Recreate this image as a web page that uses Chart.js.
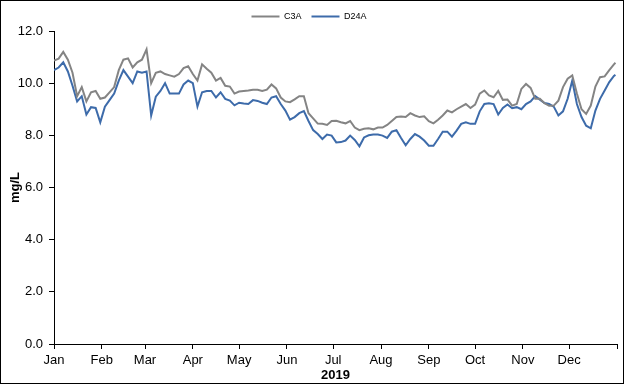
<!DOCTYPE html>
<html>
<head>
  <meta charset="UTF-8" />
  <title>C3A / D24A 2019</title>
  <script src="https://cdn.jsdelivr.net/npm/chart.js"></script>
  <style>
    body { margin: 0; background: #fff; }
    #wrap { width: 624px; height: 384px; border: 1px solid #000; box-sizing: border-box; }
    canvas { display: block; }
  </style>
</head>
<body>
  <div id="wrap"><canvas id="doChart" width="622" height="382"></canvas></div>

  <script>
    // sampled every 3rd day of 2019 (day 0 = Jan 1), last sample is Dec 31
    const c3a = [
      10.87, 10.94, 11.2, 10.9, 10.4, 9.5, 9.85, 9.3, 9.65, 9.7, 9.4, 9.45, 9.65, 9.85,
      10.5, 10.9, 10.95, 10.6, 10.8, 10.9, 11.3, 10.0, 10.4, 10.45, 10.35, 10.3, 10.25, 10.35,
      10.58, 10.65, 10.35, 10.1, 10.72, 10.55, 10.4, 10.1, 10.2, 9.9, 9.87, 9.6, 9.68, 9.7,
      9.72, 9.75, 9.75, 9.7, 9.75, 9.95, 9.8, 9.45, 9.3, 9.27, 9.38, 9.5, 9.5, 8.85, 8.65,
      8.45, 8.44, 8.4, 8.55, 8.56, 8.5, 8.46, 8.55, 8.3, 8.2, 8.25, 8.27, 8.23, 8.3, 8.3,
      8.4, 8.55, 8.7, 8.72, 8.7, 8.85, 8.76, 8.7, 8.73, 8.54, 8.46, 8.6, 8.76, 8.95, 8.88,
      9.0, 9.1, 9.2, 9.05, 9.18, 9.6, 9.72, 9.53, 9.46, 9.7, 9.36, 9.37, 9.14, 9.2, 9.78,
      9.97, 9.82, 9.4, 9.4, 9.23, 9.13, 9.14, 9.33, 9.85, 10.17, 10.3, 9.6, 9.0, 8.82, 9.14,
      9.87, 10.23, 10.26, 10.5, 10.72, 10.78
    ];
    const d24a = [
      10.5, 10.6, 10.8, 10.45, 9.9, 9.3, 9.5, 8.8, 9.08, 9.05, 8.5, 9.1, 9.35, 9.6,
      10.1, 10.5, 10.25, 10.0, 10.45, 10.4, 10.45, 8.76, 9.48, 9.7, 10.0, 9.6, 9.6, 9.6,
      9.95, 10.1, 10.0, 9.1, 9.65, 9.7, 9.7, 9.45, 9.65, 9.4, 9.33, 9.15, 9.25, 9.22,
      9.2, 9.35, 9.32, 9.25, 9.2, 9.45, 9.5, 9.2, 8.95, 8.6, 8.7, 8.85, 8.93, 8.55, 8.2,
      8.05, 7.86, 8.03, 7.99, 7.73, 7.74, 7.8, 7.99, 7.82, 7.58, 7.92, 8.0, 8.03, 8.03, 7.99,
      7.9, 8.14, 8.2, 7.9, 7.62, 7.86, 8.05, 7.95, 7.8, 7.6, 7.6, 7.86, 8.14, 8.14, 7.95,
      8.18, 8.44, 8.5, 8.44, 8.44, 8.92, 9.2, 9.23, 9.2, 8.8, 9.05, 9.18, 9.04, 9.08, 9.0,
      9.2, 9.3, 9.5, 9.37, 9.24, 9.2, 9.1, 8.76, 8.92, 9.4, 10.1, 9.2, 8.7, 8.37, 8.27,
      8.95, 9.4, 9.72, 10.04, 10.28, 10.32
    ];
    const days = c3a.map((_, i) => Math.min(i * 3, 364));

    const monthNames = ['Jan', 'Feb', 'Mar', 'Apr', 'May', 'Jun', 'Jul', 'Aug', 'Sep', 'Oct', 'Nov', 'Dec', ''];
    const monthStarts = [0, 31, 59, 90, 120, 151, 181, 212, 243, 273, 304, 334, 365];
    const yTicks = [0, 2, 4, 6, 8, 10, 12];

    const font = "Arial, 'Liberation Sans', sans-serif";

    const ctx = document.getElementById('doChart').getContext('2d');
    new Chart(ctx, {
      type: 'line',
      data: {
        datasets: [
          {
            label: 'C3A',
            data: days.map((d, i) => ({ x: d, y: c3a[i] })),
            borderColor: '#848484',
            backgroundColor: '#848484',
            borderWidth: 2,
            pointRadius: 0,
            tension: 0,
          },
          {
            label: 'D24A',
            data: days.map((d, i) => ({ x: d, y: d24a[i] })),
            borderColor: '#3D6BAA',
            backgroundColor: '#3D6BAA',
            borderWidth: 2,
            pointRadius: 0,
            tension: 0,
          }
        ]
      },
      options: {
        responsive: false,
        animation: false,
        layout: { padding: { top: 1, right: 6, left: 0, bottom: 0 } },
        plugins: {
          tooltip: { enabled: false },
          legend: {
            position: 'top',
            labels: {
              color: '#000',
              font: { family: font, size: 9 },
              usePointStyle: true,
              pointStyle: 'line',
              pointStyleWidth: 28,
              padding: 10,
            }
          }
        },
        scales: {
          x: {
            type: 'linear',
            min: 0,
            max: 365,
            afterBuildTicks: (scale) => { scale.ticks = monthStarts.map(v => ({ value: v })); },
            afterFit: (scale) => { scale.height = 39; },
            ticks: {
              color: '#000',
              font: { family: font, size: 13 },
              padding: 4,
              maxRotation: 0,
              autoSkip: false,
              callback: (v, i) => monthNames[i],
            },
            grid: { drawOnChartArea: false, drawTicks: true, tickLength: 5, color: '#000' },
            border: { display: true, color: '#000', width: 1 },
            title: {
              display: true,
              text: '2019',
              color: '#000',
              font: { family: font, size: 13, weight: 'bold' },
              padding: { top: 0, bottom: 0 },
            }
          },
          y: {
            min: 0,
            max: 12,
            afterBuildTicks: (scale) => { scale.ticks = yTicks.map(v => ({ value: v })); },
            afterFit: (scale) => { scale.width = 53; },
            ticks: {
              color: '#000',
              font: { family: font, size: 13 },
              padding: 6,
              callback: (v) => v.toFixed(1),
            },
            grid: { drawOnChartArea: false, drawTicks: true, tickLength: 5, color: '#000' },
            border: { display: true, color: '#000', width: 1 },
            title: {
              display: true,
              text: 'mg/L',
              color: '#000',
              font: { family: font, size: 13, weight: 'bold' },
              padding: { top: 7, bottom: 0 },
            }
          }
        }
      }
    });
  </script>
</body>
</html>
